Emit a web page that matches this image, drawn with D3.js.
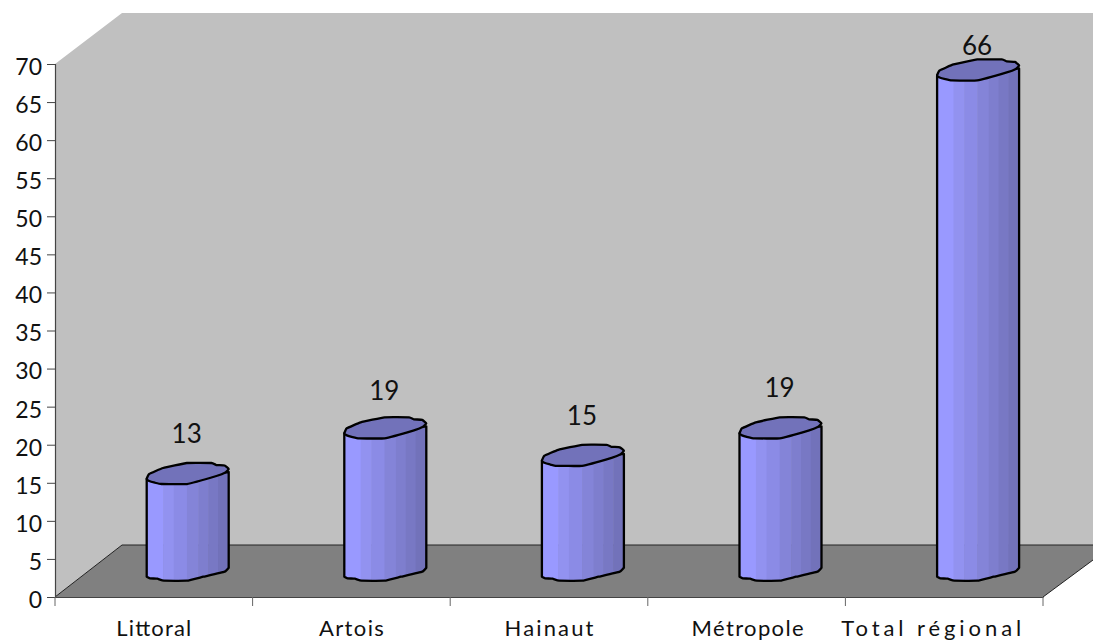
<!DOCTYPE html>
<html><head><meta charset="utf-8">
<script src="https://cdnjs.cloudflare.com/ajax/libs/d3/7.8.5/d3.min.js"></script>
<style>html,body{margin:0;padding:0;background:#fff}svg{display:block}text{font-family:Lato,"Open Sans",sans-serif;fill:#111}</style>
</head><body><svg id="c" width="1093" height="643"></svg>
<script>
const categories = ["Littoral","Artois","Hainaut","Métropole","Total régional"];
const values = [13,19,15,19,66];
const yTicks = d3.range(0,71,5);
const labelGap = [45,42,45,45,29];
const catLabelWidth = [75,65,89,112,180];
const catLabelShift = [0,0,0,1,-13];

const W=1093,H=643,L=55,R=1043,B=597,T=64,DX=67,DY=52,BW=82,LIFT=19;
const svg=d3.select("#c");
const x=d3.scaleBand().domain(categories).range([L,R]);
const y=d3.scaleLinear().domain([0,70]).range([B,T]);

svg.append("polygon").attr("points",[[L,T],[L+DX,T-DY+1],[W,T-DY+1],[W,B-DY],[L+DX,B-DY],[L,B]].join(" ")).attr("fill","#c0c0c0");
svg.append("polygon").attr("points",[[L,B],[L+DX,B-DY],[W,B-DY],[W,B-DY+15],[R,B]].join(" ")).attr("fill","#808080");
svg.append("path").attr("d",`M${L},${B}L${L+DX},${B-DY}H${W}M${W},${B-DY+15}L${R},${B}`).attr("fill","none").attr("stroke","#222").attr("stroke-width",1);

const yAxis=d3.axisLeft(y).tickValues(yTicks).tickSize(8).tickPadding(5);
const gy=svg.append("g").attr("transform",`translate(${L},0)`).call(yAxis);
const xAxis=d3.axisBottom(x).tickSize(0).tickPadding(22);
const gx=svg.append("g").attr("transform",`translate(0,${B})`).call(xAxis);
svg.append("g").selectAll("line").data(d3.range(categories.length+1)).join("line")
 .attr("x1",i=>L+i*x.step()).attr("x2",i=>L+i*x.step()).attr("y1",B).attr("y2",B+9).attr("stroke","#666");
[gy,gx].forEach(g=>{g.select(".domain").attr("stroke","#444").attr("stroke-width",1.2);
 g.selectAll("text").attr("font-family","Lato").attr("fill","#111");});
gy.selectAll(".tick line").attr("stroke","#444");
gy.selectAll("text").attr("font-size",23).attr("y",3);
gx.selectAll("text").attr("font-size",22).attr("y",23)
 .attr("x",(d,i)=>catLabelShift[i])
 .attr("textLength",(d,i)=>catLabelWidth[i]).attr("lengthAdjust","spacing");

const stripes=[[0,.2,"#9999ff"],[.2,.33,"#9292f0"],[.33,.49,"#8b8be6"],[.49,.63,"#8484d8"],[.63,.75,"#7e7ece"],[.75,.87,"#7878c4"],[.87,1,"#7272ba"]];
const capShape=[[0,0],[.03,-5],[.2,-11],[.49,-16],[.79,-16],[.85,-14],[.95,-13.5],[1,-10],[.96,-6.5],[.85,-3],[.49,5],[.18,5],[.1,3.7],[.03,2]];
const baseShape=[[0,-1.3],[.04,.3],[.13,.7],[.21,2.7],[.49,2.7],[.69,-1.3],[.95,-6.3],[1,-10.3]];
const defs=svg.append("defs");
const line=d3.line().curve(d3.curveCardinalClosed.tension(.7));
const baseLine=d3.line().curve(d3.curveCardinal.tension(.7));
categories.forEach((c,i)=>{
 const bx=x(c)+x.step()/2+DX/2-BW/2+.4, g=svg.append("g");
 const yTop=y(values[i])-LIFT+(i==2?-3:0), yBot=B-LIFT;
 const basePath=baseLine(baseShape.map(p=>[bx+p[0]*BW,yBot+p[1]]));
 const pathD=`M${bx},${yTop}L${bx},${yBot-1.3}`+basePath.replace(/^M[^CL]*/,"L"+bx+","+(yBot-1.3))+`L${bx+BW},${yTop-7}Z`;
 const id="clip"+i;
 defs.append("clipPath").attr("id",id).append("path").attr("d",pathD);
 g.append("g").attr("clip-path",`url(#${id})`).selectAll("rect").data(stripes).join("rect")
  .attr("x",d=>bx+d[0]*BW).attr("width",d=>(d[1]-d[0])*BW+.5).attr("y",yTop-20).attr("height",yBot-yTop+40).attr("fill",d=>d[2]);
 g.append("path").attr("d",pathD).attr("fill","none").attr("stroke","#000").attr("stroke-width",2.3).attr("stroke-linejoin","round");
 g.append("path").attr("d",line(capShape.map(p=>[bx+p[0]*BW,yTop+p[1]]))).attr("fill","#7272ba").attr("stroke","#000").attr("stroke-width",2.3);
 svg.append("text").attr("x",bx+BW/2-1).attr("y",yTop-labelGap[i]+9).attr("text-anchor","middle").attr("font-size",26).text(values[i]);
});
</script></body></html>
